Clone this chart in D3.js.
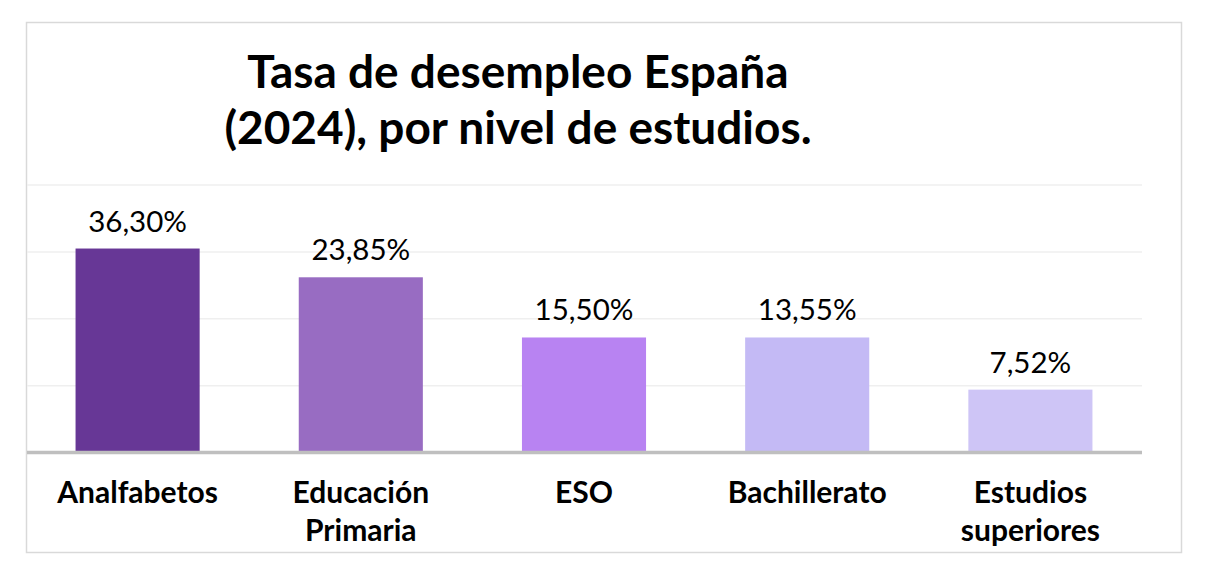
<!DOCTYPE html>
<html>
<head>
<meta charset="utf-8">
<script src="https://cdn.jsdelivr.net/npm/d3@7"></script>
<style>
  body { margin: 0; background: #fff; }
  svg { display: block; }
</style>
</head>
<body>
<div id="chart"></div>
<script>
// Categories (each label split into lines)
const categories = ["Analfabetos", "Educación Primaria", "ESO", "Bachillerato", "Estudios superiores"];
const categoryLines = [["Analfabetos"], ["Educación", "Primaria"], ["ESO"], ["Bachillerato"], ["Estudios", "superiores"]];

// Bar heights as drawn in the picture (axis 0-40)
const barValues = [30.5, 26.2, 17.2, 17.2, 9.4];

// Data labels as printed on the chart
const valueLabels = ["36,30%", "23,85%", "15,50%", "13,55%", "7,52%"];

// Gridline ticks
const gridTicks = [0, 10, 20, 30, 40];

const barColors = ["#673796", "#986cc2", "#b883f2", "#c4baf5", "#cec5f6"];

const titleLines = ["Tasa de desempleo España", "(2024), por nivel de estudios."];

const width = 1212, height = 566;
const font = "Lato, 'Open Sans', sans-serif";

const svg = d3.select("#chart")
  .append("svg")
  .attr("width", width)
  .attr("height", height);

// Outer frame
svg.append("rect")
  .attr("x", 26.5)
  .attr("y", 22.5)
  .attr("width", 1155)
  .attr("height", 530)
  .attr("fill", "#fff")
  .attr("stroke", "#d9d9d9")
  .attr("stroke-width", 1.5);

// Scales
const x = d3.scaleBand()
  .domain(categories)
  .range([26, 1142])
  .paddingInner(0.444)
  .paddingOuter(0.222);

const y = d3.scaleLinear()
  .domain([0, 40])
  .range([452.5, 185]);

// Gridlines
svg.append("g")
  .selectAll("line")
  .data(gridTicks.slice(1))
  .join("line")
  .attr("x1", 27)
  .attr("x2", 1142)
  .attr("y1", d => y(d))
  .attr("y2", d => y(d))
  .attr("stroke", "#efefef")
  .attr("stroke-width", 1.5);

// Bars
svg.append("g")
  .selectAll("rect")
  .data(barValues)
  .join("rect")
  .attr("x", (d, i) => x(categories[i]))
  .attr("y", d => y(d))
  .attr("width", x.bandwidth())
  .attr("height", d => y(0) - y(d))
  .attr("fill", (d, i) => barColors[i]);

// Baseline axis
const xAxis = d3.axisBottom(x).tickSize(0).tickFormat("");
const axisG = svg.append("g")
  .attr("transform", `translate(0, ${y(0)})`)
  .call(xAxis);
axisG.select(".domain")
  .attr("stroke", "#bfbfbf")
  .attr("stroke-width", 3.5)
  .attr("d", "M27,0H1142");

// Value labels
svg.append("g")
  .selectAll("text")
  .data(barValues)
  .join("text")
  .attr("x", (d, i) => x(categories[i]) + x.bandwidth() / 2)
  .attr("y", d => y(d) - 17)
  .attr("text-anchor", "middle")
  .attr("font-family", font)
  .attr("font-size", 29.5)
  .attr("fill", "#000")
  .text((d, i) => valueLabels[i]);

// Category labels
const catG = svg.append("g")
  .selectAll("text")
  .data(categoryLines)
  .join("text")
  .attr("x", (d, i) => x(categories[i]) + x.bandwidth() / 2)
  .attr("y", 503)
  .attr("text-anchor", "middle")
  .attr("font-family", font)
  .attr("font-weight", "bold")
  .attr("font-size", 30)
  .attr("fill", "#000");

catG.selectAll("tspan")
  .data(d => d)
  .join("tspan")
  .attr("x", function () { return this.parentNode.getAttribute("x"); })
  .attr("dy", (d, i) => i === 0 ? 0 : 37.5)
  .text(d => d);

// Title
svg.append("g")
  .selectAll("text")
  .data(titleLines)
  .join("text")
  .attr("x", 518)
  .attr("y", (d, i) => 88 + i * 56)
  .attr("text-anchor", "middle")
  .attr("font-family", font)
  .attr("font-weight", "bold")
  .attr("font-size", 46)
  .attr("fill", "#000")
  .text(d => d);
</script>
</body>
</html>
